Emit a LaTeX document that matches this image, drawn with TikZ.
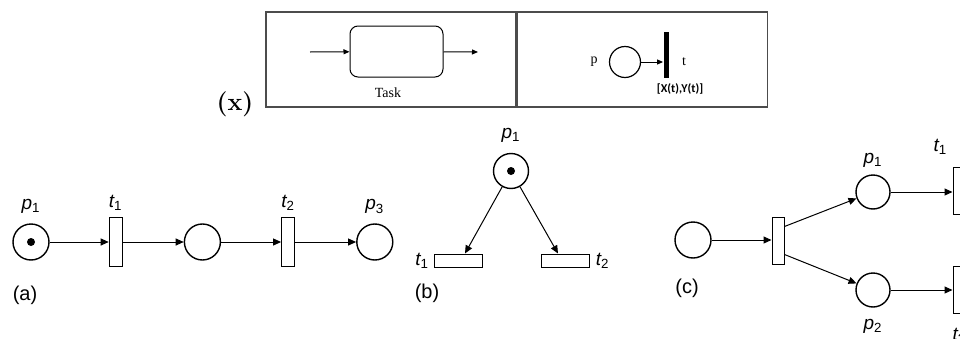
\documentclass[tikz,border=0pt]{standalone}
\usepackage{fontspec}
\newfontfamily\helv{Liberation Sans}
\newfontfamily\tnr{Liberation Serif}
\newfontfamily\calib{Carlito}
\usetikzlibrary{arrows.meta,positioning}

\begin{document}
\begin{tikzpicture}[x=0.5pt,y=-0.5pt,
  place/.style={circle,draw,line width=0.7pt,minimum size=18pt,inner sep=0pt},
  token/.style={circle,fill,minimum size=4pt,inner sep=0pt},
  vtrans/.style={rectangle,draw,line width=0.5pt,minimum width=6.5pt,
                 minimum height=24.5pt,inner sep=0pt},
  htrans/.style={rectangle,draw,line width=0.5pt,minimum width=24pt,
                 minimum height=6.5pt,inner sep=0pt},
  lbl/.style={font=\helv\fontsize{9.5}{10}\selectfont,inner sep=0pt},
  tag/.style={font=\helv\fontsize{10}{11}\selectfont,inner sep=0pt},
  arc/.style={-{Triangle[length=4pt,width=3.5pt]},line width=0.5pt},
  tinyarc/.style={-{Triangle[length=3pt,width=2.5pt]},line width=0.5pt},
  cell/.style={draw=black!70,line width=0.7pt,minimum width=125pt,
               minimum height=47.5pt,inner sep=0pt}]
\useasboundingbox (0,0) rectangle (960,338);

% legend box
\node[cell] (taskcell) at (391,59.5) {};
\node[cell,right=0pt of taskcell] (netcell) {};
\node[font=\bfseries\fontsize{12.5}{13}\selectfont] (xtag) at (235,104) {(x)};

\node[draw,rounded corners=4pt,line width=0.5pt,minimum width=46.5pt,
      minimum height=25.5pt] (task) at (396.5,51.5) {};
\coordinate (taskin) at (310,52);
\coordinate (taskout) at (478,52);
\draw[tinyarc] (taskin) -- (task);
\draw[tinyarc] (task) -- (taskout);
\node[font=\tnr\fontsize{7}{8}\selectfont] (tasklab) at (388,93) {Task};

\node[circle,draw,line width=0.6pt,minimum size=15.5pt,inner sep=0pt] (pl) at (625,62) {};
\node[fill,minimum width=2.5pt,minimum height=23pt,inner sep=0pt] (tbar) at (666,55) {};
\draw[tinyarc] (pl.east) -- (pl.east -| tbar.west);
\node[font=\tnr\fontsize{7}{8}\selectfont] (pllab) at (594,62) {p};
\node[font=\tnr\fontsize{7}{8}\selectfont] (tbarlab) at (684,62) {t};
\node[font=\calib\bfseries\fontsize{6}{7}\selectfont] (xylab) at (680,89) {[X(t),Y(t)]};

% (a) sequence
\node[place] (pa1) at (31,242) {};
\node[token] (ka1) at (pa1) {};
\node[vtrans,right=29.5pt of pa1] (ta1) {};
\node[place,right=30.5pt of ta1] (pa2) {};
\node[vtrans,right=30pt of pa2] (ta2) {};
\node[place,right=30.5pt of ta2] (pa3) {};
\draw[arc] (pa1) -- (ta1); \draw[arc] (ta1) -- (pa2);
\draw[arc] (pa2) -- (ta2); \draw[arc] (ta2) -- (pa3);
\node[lbl,above=4.5pt of pa1] (lpa1) {\itshape p\textsubscript{\upshape 1}};
\node[lbl,above=3pt of ta1] (lta1) {\itshape t\textsubscript{\upshape 1}};
\node[lbl,above=3pt of ta2] (lta2) {\itshape t\textsubscript{\upshape 2}};
\node[lbl,above=4.5pt of pa3] (lpa3) {\itshape p\textsubscript{\upshape 3}};
\node[tag] (taga) at (25,295) {(a)};

% (b) conflict
\node[place,minimum size=17.5pt] (pb1) at (511,171) {};
\node[token] (kb1) at (pb1) {};
\node[htrans] (tb1) at (458,260.5) {};
\node[htrans] (tb2) at (565,260.5) {};
\draw[arc] (pb1) -- ([xshift=3.5pt]tb1.north);
\draw[arc] (pb1) -- ([xshift=-3.5pt]tb2.north);
\node[lbl,above=5pt of pb1] (lpb1) {\itshape p\textsubscript{\upshape 1}};
\node[lbl,left=2pt of tb1] (ltb1) {\itshape t\textsubscript{\upshape 1}};
\node[lbl,right=3pt of tb2] (ltb2) {\itshape t\textsubscript{\upshape 2}};
\node[tag] (tagb) at (427,293) {(b)};

% (c) fork
\node[place] (pc0) at (693,240) {};
\node[vtrans,minimum width=6pt,minimum height=23.5pt] (tc0) at (778,240.5) {};
\node[place,minimum size=17pt] (pc1) at (873,192) {};
\node[place,minimum size=17pt] (pc2) at (873,290) {};
\node[vtrans,minimum height=23.5pt] (tc1) at (959.5,190.5) {};
\node[vtrans,minimum height=23.5pt] (tc2) at (959.5,290) {};
\draw[arc] (pc0) -- (pc0 -| tc0.west);
\draw[arc] ([yshift=7pt]tc0.east) -- (pc1);
\draw[arc] ([yshift=-7pt]tc0.east) -- (pc2);
\draw[arc] (pc1) -- (pc1 -| tc1.west);
\draw[arc] (pc2) -- (pc2 -| tc2.west);
\node[lbl,above=3pt of pc1] (lpc1) {\itshape p\textsubscript{\upshape 1}};
\node[lbl,below=5.5pt of pc2] (lpc2) {\itshape p\textsubscript{\upshape 2}};
\node[lbl,above=6pt of tc1,xshift=-9.5pt] (ltc1) {\itshape t\textsubscript{\upshape 1}};
\node[lbl,below=7pt of tc2] (ltc2) {\itshape t\textsubscript{\upshape 2}};
\node[tag] (tagc) at (687,288) {(c)};
\end{tikzpicture}
\end{document}
